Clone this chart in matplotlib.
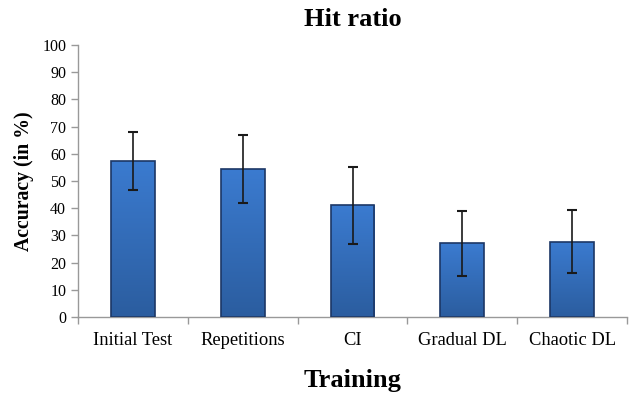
import numpy as np
import matplotlib.pyplot as plt
from matplotlib.colors import LinearSegmentedColormap

# data
categories = ['Initial Test', 'Repetitions', 'CI', 'Gradual DL', 'Chaotic DL']
accuracy = [57.4, 54.4, 41.1, 27.1, 27.6]
errors = [10.7, 12.4, 14.1, 12.0, 11.6]
yticks = list(range(0, 101, 10))

plt.rcParams['font.family'] = ['Liberation Serif', 'DejaVu Serif']

fig = plt.figure(figsize=(6.38, 4.01), dpi=100)
ax = fig.add_axes([0.1223, 0.2095, 0.8605, 0.6783])

x = np.arange(len(categories))
bars = ax.bar(x, accuracy, width=0.4, color='#3470c0', edgecolor='#1c3766',
              linewidth=1.2, zorder=2)

# vertical gradient inside each bar, lighter at top
cmap = LinearSegmentedColormap.from_list('bluegrad', ['#2b5d9f', '#3b7bd0'])
grad = np.linspace(0, 1, 256).reshape(-1, 1)
for b in bars:
    x0, w, h = b.get_x(), b.get_width(), b.get_height()
    im = ax.imshow(grad, extent=[x0, x0 + w, 0, h], origin='lower', cmap=cmap,
                   aspect='auto', zorder=2.5)
    im.set_clip_path(b)
    b.set_facecolor('none')
    b.set_zorder(3)

ax.errorbar(x, accuracy, yerr=errors, fmt='none', ecolor='#1a1a1a',
            elinewidth=1.2, capsize=3.5, capthick=1.5, zorder=4)

ax.set_xlim(-0.5, len(categories) - 0.5)
ax.set_ylim(0, 100)
ax.set_yticks(yticks)
ax.set_xticks(x)
ax.set_xticklabels(categories, fontsize=13.3)
ax.set_xticks(np.arange(-0.5, len(categories)), minor=True)
ax.tick_params(axis='x', which='major', length=0, pad=11)
ax.tick_params(axis='x', which='minor', length=5, color='#999999', width=1)
ax.tick_params(axis='y', length=5, color='#999999', width=1, labelsize=11.5, pad=3.5)

for s in ['top', 'right']:
    ax.spines[s].set_visible(False)
for s in ['left', 'bottom']:
    ax.spines[s].set_color('#999999')
    ax.spines[s].set_linewidth(1)

ax.set_title('Hit ratio', fontsize=19, fontweight='bold', pad=14)
ax.set_xlabel('Training', fontsize=19, fontweight='bold', labelpad=14)
ax.set_ylabel('Accuracy (in %)', fontsize=14.2, fontweight='bold', labelpad=6)

fig.savefig('out.png', dpi=100)
